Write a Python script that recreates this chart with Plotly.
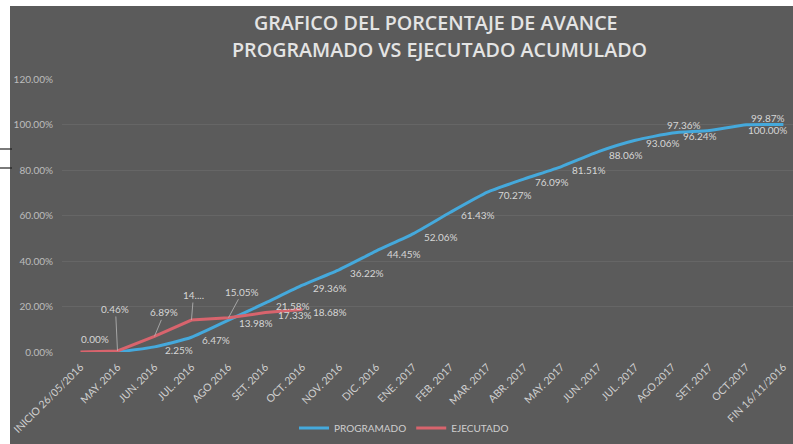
import plotly.graph_objects as go

categorias = ["INICIO 26/05/2016", "MAY. 2016", "JUN. 2016", "JUL. 2016", "AGO 2016",
              "SET. 2016", "OCT. 2016", "NOV. 2016", "DIC. 2016", "ENE. 2017",
              "FEB. 2017", "MAR. 2017", "ABR. 2017", "MAY. 2017", "JUN. 2017",
              "JUL. 2017", "AGO.2017", "SET. 2017", "OCT.2017", "FIN 16/11/2016"]

programado = [None, 0.0, 0.0225, 0.0647, 0.1398, 0.2158, 0.2936, 0.3622, 0.4445, 0.5206,
              0.6143, 0.7027, 0.7609, 0.8151, 0.8806, 0.9306, 0.9624, 0.9736, 0.9987, 1.0]

ejecutado = [0.0, 0.0046, 0.0689, 0.1405, 0.1505, 0.1733, 0.1868] + [None] * 13

y_ticks = [0, 0.2, 0.4, 0.6, 0.8, 1.0, 1.2]

titulo_1 = "GRAFICO DEL PORCENTAJE DE AVANCE"
titulo_2 = "PROGRAMADO VS EJECUTADO ACUMULADO"

BLUE = "#45a9dc"
RED = "#d8646d"
BG = "#5b5b5b"
TXT = "#cfcfcf"
LBL = "#d6d6d6"
FONT = "Lato"

fig = go.Figure()
fig.add_trace(go.Scatter(x=categorias, y=programado, mode="lines", name="PROGRAMADO",
                         line=dict(color=BLUE, width=3, shape="spline", smoothing=0.5),
                         connectgaps=False))
fig.add_trace(go.Scatter(x=categorias, y=ejecutado, mode="lines", name="EJECUTADO",
                         line=dict(color=RED, width=3), connectgaps=False))

annotations = []

def fmt(v):
    return f"{v*100:.2f}%"

# Data labels - PROGRAMADO
prog_pos = {17: ("right", -6, 6), 18: ("left", 3, 7), 19: ("right", 6, -5)}
for i, v in enumerate(programado):
    if v is None or i == 1:
        continue
    xa, xs, ys = prog_pos.get(i, ("left", 9, -3))
    annotations.append(dict(x=categorias[i], y=v, text=fmt(v), showarrow=False,
                            xanchor=xa, yanchor="middle", xshift=xs, yshift=ys,
                            font=dict(family=FONT, size=10, color=LBL)))

# Data labels - EJECUTADO
ejec_text = [fmt(v) if v is not None else None for v in ejecutado]
ejec_text[3] = "14...."
ejec_plain = {0: ("left", -2, 13), 5: ("left", 11, -2), 6: ("left", 9, -2)}
ejec_arrow = {1: (-2, -42), 2: (10, -24), 3: (2, -25), 4: (14, -26)}
for i, v in enumerate(ejecutado):
    if v is None:
        continue
    if i in ejec_plain:
        xa, xs, ys = ejec_plain[i]
        annotations.append(dict(x=categorias[i], y=v, text=ejec_text[i], showarrow=False,
                                xanchor=xa, yanchor="middle", xshift=xs, yshift=ys,
                                font=dict(family=FONT, size=10, color=LBL)))
    else:
        ax, ay = ejec_arrow[i]
        annotations.append(dict(x=categorias[i], y=v, text=ejec_text[i], showarrow=True,
                                arrowhead=0, arrowwidth=0.8, arrowcolor="#b8b8b8",
                                standoff=0, ax=ax, ay=ay,
                                font=dict(family=FONT, size=10, color=LBL)))

# Title
annotations.append(dict(xref="paper", yref="paper", x=(436 - 62) / 731, y=(352 - 22) / 273,
                        text=titulo_1, showarrow=False, xanchor="center", yanchor="middle",
                        font=dict(family="Open Sans", size=19.7, color="#e4e4e4", weight=600)))
annotations.append(dict(xref="paper", yref="paper", x=(439 - 62) / 731, y=(352 - 50) / 273,
                        text=titulo_2, showarrow=False, xanchor="center", yanchor="middle",
                        font=dict(family="Open Sans", size=19.7, color="#e4e4e4", weight=600)))

shapes = [
    dict(type="rect", xref="paper", yref="paper", x0=(10 - 62) / 731, x1=1.01,
         y0=-0.4, y1=(352 - 6) / 273, fillcolor=BG, line=dict(width=0), layer="below"),
    dict(type="line", xref="paper", yref="paper", x0=(0 - 62) / 731, x1=(12 - 62) / 731,
         y0=(352 - 149) / 273, y1=(352 - 149) / 273, line=dict(color="#222", width=1.2)),
    dict(type="line", xref="paper", yref="paper", x0=(0 - 62) / 731, x1=(12 - 62) / 731,
         y0=(352 - 168) / 273, y1=(352 - 168) / 273, line=dict(color="#222", width=1.2)),
]

fig.update_layout(
    width=793, height=444,
    margin=dict(l=62, r=0, t=79, b=92, autoexpand=False),
    paper_bgcolor="white",
    plot_bgcolor="rgba(0,0,0,0)",
    showlegend=True,
    legend=dict(orientation="h", x=(404 - 62) / 731, y=(352 - 428) / 273,
                xanchor="center", yanchor="middle", itemwidth=30,
                font=dict(family=FONT, size=10, color=TXT), bgcolor="rgba(0,0,0,0)"),
    annotations=annotations,
    shapes=shapes,
    xaxis=dict(type="category", range=[-0.5, 19.26], tickangle=-45, automargin=False,
               tickfont=dict(family=FONT, size=10.5, color=TXT), showgrid=False,
               showline=False, zeroline=False, ticks="", ticklabelstandoff=6),
    yaxis=dict(range=[0, 1.2], tickvals=y_ticks, tickformat=".2%", automargin=False,
               tickfont=dict(family=FONT, size=10, color="#bdbdbd"),
               showgrid=True, gridcolor="rgba(255,255,255,0.07)", zeroline=False,
               showline=False, ticklabelstandoff=8),
)

fig.write_html("out.html", config={"displayModeBar": False},
               post_script="document.body.style.margin='0';")
